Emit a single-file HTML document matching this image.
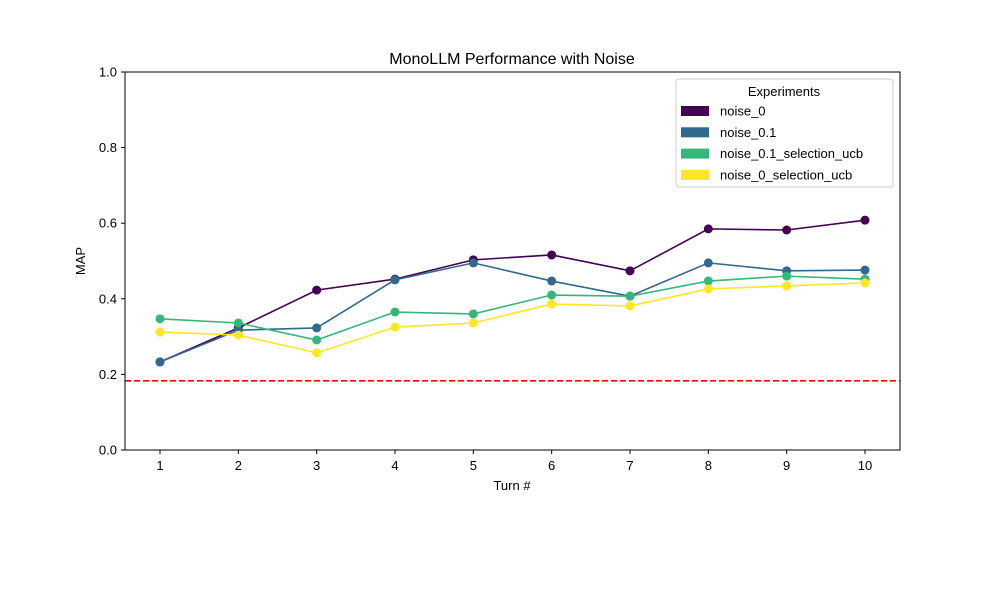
<!DOCTYPE html>
<html><head><meta charset="utf-8"><style>
body{margin:0;background:#fff;}
svg text{font-family:"Liberation Sans","DejaVu Sans",sans-serif;fill:#000;}
</style></head><body>
<svg id="chart" width="1000" height="600" xmlns="http://www.w3.org/2000/svg">
<rect width="1000" height="600" fill="#fff"/>
<text x="512" y="64" font-size="16" text-anchor="middle">MonoLLM Performance with Noise</text>
<g id="grid"></g>
<g id="series"></g>
<rect x="125" y="72" width="775" height="378" fill="none" stroke="#000" stroke-width="1"/>
<text x="512" y="490" font-size="13" text-anchor="middle">Turn #</text>
<text transform="translate(85,261) rotate(-90)" font-size="13" text-anchor="middle">MAP</text>
<g id="legend"></g>
</svg>
<script>
const turns=[1,2,3,4,5,6,7,8,9,10];
const seriesNames=["noise_0","noise_0.1","noise_0.1_selection_ucb","noise_0_selection_ucb"];
const noise0=[0.233,0.323,0.423,0.452,0.503,0.516,0.474,0.585,0.582,0.608];
const noise01=[0.233,0.317,0.323,0.450,0.495,0.447,0.407,0.495,0.474,0.476];
const noise01ucb=[0.347,0.336,0.291,0.365,0.360,0.410,0.407,0.447,0.460,0.452];
const noise0ucb=[0.312,0.304,0.257,0.325,0.336,0.386,0.381,0.426,0.434,0.442];
const baseline=0.183;
const yTicks=[0,0.2,0.4,0.6,0.8,1.0];
const colors=["#440154","#31688e","#35b779","#fde725"];
const NS="http://www.w3.org/2000/svg";
const X=t=>160+(t-1)*(705/9);
const Y=v=>450-v*378;
function mk(tag,attrs,parent){const e=document.createElementNS(NS,tag);for(const k in attrs)e.setAttribute(k,attrs[k]);parent.appendChild(e);return e;}
const grid=document.getElementById('grid');
yTicks.forEach(v=>{
  const l=mk('line',{x1:121,x2:125,y1:Y(v),y2:Y(v),stroke:'#000'},grid);
  
  
  const t=mk('text',{x:117,y:Y(v)+4.5,'font-size':13,'text-anchor':'end'},grid);
  t.textContent=v.toFixed(1);
  
  
});
turns.forEach(tt=>{
  const l=mk('line',{x1:X(tt),x2:X(tt),y1:450,y2:454,stroke:'#000'},grid);
  
  
  const t=mk('text',{x:X(tt),y:470,'font-size':13,'text-anchor':'middle'},grid);
  t.textContent=tt;
  
  
});
const bl=mk('line',{x1:125,x2:900,y1:Y(baseline),y2:Y(baseline),stroke:'#ff0000','stroke-width':1.6,'stroke-dasharray':'6,3'},grid);


const sg=document.getElementById('series');
[noise0,noise01,noise01ucb,noise0ucb].forEach((vals,i)=>{
  const g=mk('g',{},sg);
  
  
  const p=mk('polyline',{points:vals.map((v,j)=>X(turns[j])+','+Y(v)).join(' '),fill:'none',stroke:colors[i],'stroke-width':1.6},g);
  
  
  vals.forEach((v,j)=>{
    const c=mk('circle',{cx:X(turns[j]),cy:Y(v),r:4.5,fill:colors[i]},g);
    
    
  });
});
const lg=document.getElementById('legend');


mk('rect',{x:676,y:79,width:217,height:108,rx:3,fill:'#fff',stroke:'#ccc'},lg);
const lt=mk('text',{x:784,y:96,'font-size':13,'text-anchor':'middle'},lg);
lt.textContent='Experiments';


seriesNames.forEach((n,i)=>{
  const y=111+i*21.3;
  const r=mk('rect',{x:681,y:y-5,width:28,height:10,fill:colors[i]},lg);
  
  
  const t=mk('text',{x:720,y:y+4.5,'font-size':13},lg);
  t.textContent=n;
  
  
});
</script>
</body></html>
